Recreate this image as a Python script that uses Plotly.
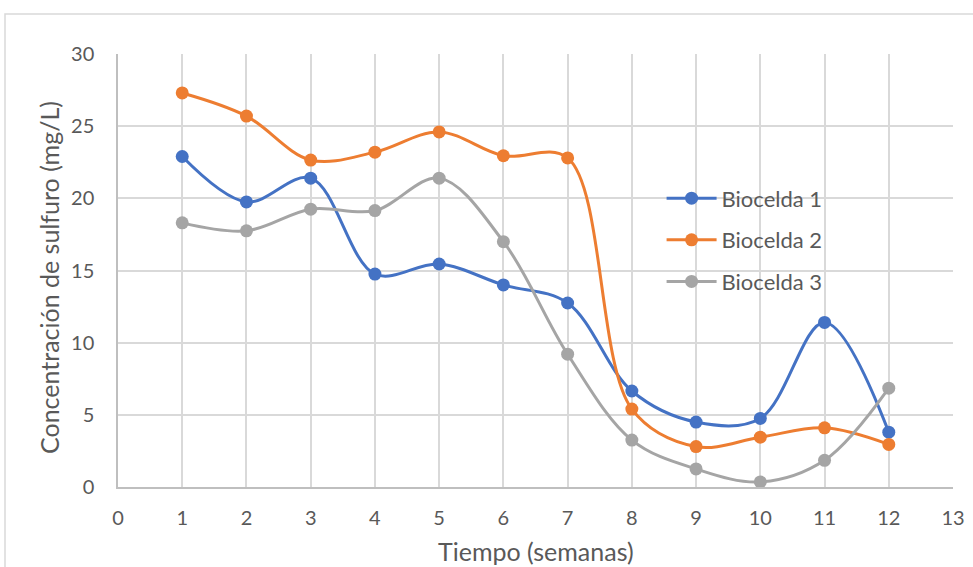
import plotly.graph_objects as go

semanas = [1, 2, 3, 4, 5, 6, 7, 8, 9, 10, 11, 12]
biocelda1 = [22.9, 19.75, 21.4, 14.75, 15.45, 14.0, 12.75, 6.65, 4.5, 4.75, 11.4, 3.8]
biocelda2 = [27.3, 25.7, 22.65, 23.2, 24.6, 22.95, 22.8, 5.4, 2.8, 3.45, 4.1, 2.95]
biocelda3 = [18.3, 17.75, 19.25, 19.15, 21.4, 17.0, 9.2, 3.25, 1.25, 0.35, 1.85, 6.85]
nombres = ["Biocelda 1", "Biocelda 2", "Biocelda 3"]
colores = ["#4472C4", "#ED7D31", "#A5A5A5"]
titulo_x = "Tiempo (semanas)"
titulo_y = "Concentración de sulfuro (mg/L)"

FONT = "Lato"
TXT = "#595959"

L, R, T, B = 118, 20, 54, 80
PW, PH = 973 - L - R, 567 - T - B

fig = go.Figure()
for i, (nm, ys, c) in enumerate(zip(nombres, [biocelda1, biocelda2, biocelda3], colores)):
    fig.add_trace(go.Scatter(
        x=semanas, y=ys, name=nm, mode="lines+markers",
        line=dict(color=c, width=3, shape="spline", smoothing=1.0),
        marker=dict(color=c, size=13),
        legendgroup=f"g{i}",
    ))

fig.update_layout(
    width=973, height=567,
    margin=dict(l=L, r=R, t=T, b=B, autoexpand=False),
    paper_bgcolor="white", plot_bgcolor="white",
    font=dict(family=FONT, color=TXT, size=20),
    showlegend=True,
    legend=dict(x=0.651, y=0.715, xanchor="left", yanchor="top",
                bgcolor="rgba(0,0,0,0)", font=dict(size=22, color=TXT),
                tracegroupgap=10, itemwidth=50),
    xaxis=dict(range=[0, 13], dtick=1, tick0=0, showgrid=True, gridcolor="#D9D9D9",
               gridwidth=1.5, showline=True, linecolor="#BFBFBF", linewidth=1.5,
               zeroline=False, ticks="", tickfont=dict(size=20, color=TXT), ticklabelstandoff=12,
               automargin=False),
    yaxis=dict(range=[0, 30], dtick=5, tick0=0, showgrid=True, gridcolor="#D9D9D9",
               gridwidth=1.5, showline=True, linecolor="#BFBFBF", linewidth=1.5,
               zeroline=False, ticks="", tickfont=dict(size=20, color=TXT), ticklabelstandoff=18,
               automargin=False),
    annotations=[
        dict(text=titulo_x, xref="paper", yref="paper", x=(535.5 - L) / PW, y=(567 - B - 551) / PH,
             xanchor="center", yanchor="middle", showarrow=False, font=dict(size=25, color=TXT)),
        dict(text=titulo_y, xref="paper", yref="paper", x=(49 - L) / PW, y=(567 - B - 278) / PH,
             xanchor="center", yanchor="middle", showarrow=False, textangle=-90,
             font=dict(size=25, color=TXT)),
    ],
    shapes=[dict(type="rect", xref="paper", yref="paper",
                 x0=(5 - L) / PW, x1=1.2, y0=-0.5, y1=(567 - B - 14) / PH,
                 line=dict(color="#D9D9D9", width=1.5), fillcolor="rgba(0,0,0,0)", layer="below")],
)

fig.write_html("out.html")
